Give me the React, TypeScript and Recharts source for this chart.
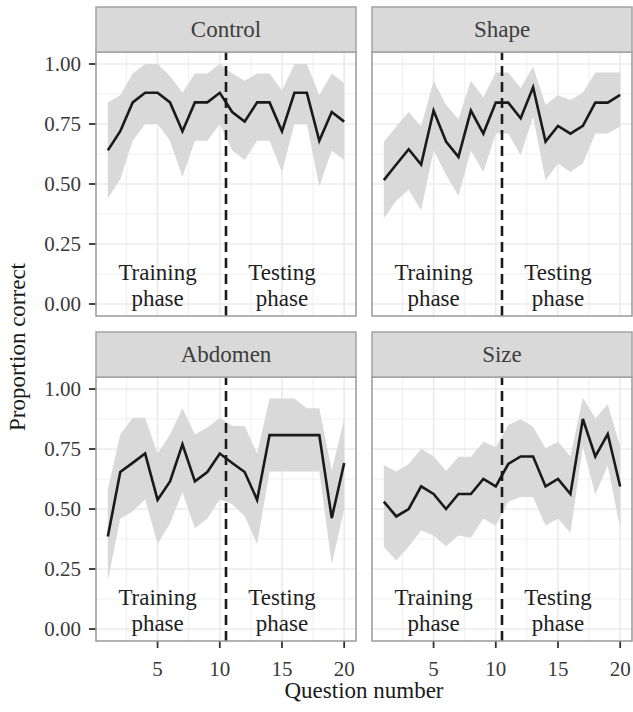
import React from 'react';
import {
  ComposedChart,
  Area,
  Line,
  XAxis,
  YAxis,
  CartesianGrid,
  ReferenceLine,
  ReferenceDot,
} from 'recharts';

// ---------- data ----------
const questions = [1, 2, 3, 4, 5, 6, 7, 8, 9, 10, 11, 12, 13, 14, 15, 16, 17, 18, 19, 20];
const panelTitles = ['Control', 'Shape', 'Abdomen', 'Size'];

const controlMean = [0.64, 0.72, 0.84, 0.88, 0.88, 0.84, 0.72, 0.84, 0.84, 0.88, 0.8, 0.76, 0.84, 0.84, 0.72, 0.88, 0.88, 0.68, 0.8, 0.76];
const controlLower = [0.44, 0.52, 0.68, 0.75, 0.75, 0.68, 0.53, 0.68, 0.68, 0.75, 0.64, 0.6, 0.68, 0.68, 0.55, 0.75, 0.75, 0.49, 0.64, 0.6];
const controlUpper = [0.84, 0.87, 0.96, 1.0, 1.0, 0.95, 0.88, 0.96, 0.96, 1.0, 0.96, 0.93, 0.96, 0.96, 0.89, 1.0, 1.0, 0.87, 0.96, 0.92];

const shapeMean = [0.516, 0.581, 0.645, 0.581, 0.806, 0.677, 0.613, 0.806, 0.71, 0.839, 0.839, 0.774, 0.903, 0.677, 0.742, 0.71, 0.742, 0.839, 0.839, 0.871];
const shapeLower = [0.356, 0.43, 0.476, 0.39, 0.64, 0.54, 0.45, 0.64, 0.55, 0.71, 0.71, 0.62, 0.78, 0.515, 0.585, 0.55, 0.585, 0.71, 0.71, 0.74];
const shapeUpper = [0.675, 0.74, 0.8, 0.74, 0.93, 0.83, 0.77, 0.93, 0.86, 0.965, 0.965, 0.9, 0.99, 0.83, 0.87, 0.85, 0.88, 0.965, 0.965, 0.965];

const abdomenMean = [0.385, 0.654, 0.692, 0.731, 0.538, 0.615, 0.769, 0.615, 0.654, 0.731, 0.692, 0.654, 0.538, 0.808, 0.808, 0.808, 0.808, 0.808, 0.462, 0.692];
const abdomenLower = [0.2, 0.46, 0.49, 0.54, 0.354, 0.44, 0.57, 0.42, 0.46, 0.54, 0.52, 0.47, 0.354, 0.656, 0.656, 0.656, 0.656, 0.656, 0.27, 0.5];
const abdomenUpper = [0.58, 0.81, 0.88, 0.88, 0.73, 0.81, 0.92, 0.81, 0.84, 0.88, 0.846, 0.846, 0.73, 0.96, 0.96, 0.96, 0.92, 0.92, 0.66, 0.874];

const sizeMean = [0.531, 0.469, 0.5, 0.594, 0.5625, 0.5, 0.5625, 0.5625, 0.625, 0.594, 0.6875, 0.719, 0.719, 0.594, 0.625, 0.5625, 0.875, 0.719, 0.8125, 0.594];
const sizeLower = [0.343, 0.285, 0.343, 0.41, 0.39, 0.345, 0.39, 0.38, 0.46, 0.43, 0.53, 0.55, 0.55, 0.43, 0.46, 0.4, 0.76, 0.56, 0.68, 0.42];
const sizeUpper = [0.683, 0.656, 0.6875, 0.75, 0.72, 0.658, 0.718, 0.718, 0.78, 0.757, 0.85, 0.874, 0.843, 0.753, 0.78, 0.72, 0.964, 0.878, 0.936, 0.76];

const xTicks = [5, 10, 15, 20];
const xMinor = [2.5, 7.5, 12.5, 17.5];
const yTicks = [0, 0.25, 0.5, 0.75, 1];
const yMinor = [0.125, 0.375, 0.625, 0.875];
const phaseBoundary = 10.5;
const trainingLabel = ['Training', 'phase'];
const testingLabel = ['Testing', 'phase'];

// ---------- layout ----------
const FONT = '"Liberation Serif", "Times New Roman", Times, serif';
const PLOT_W = 260;
const PLOT_H = 264;
const STRIP_H = 45;
const COL_LEFT = [96, 372];
const ROW_TOP = [52, 377];
const Y_AXIS_W = 96;
const X_AXIS_H = 50;

function build(mean: number[], lower: number[], upper: number[]) {
  return questions.map((q, i) => ({ q, mean: mean[i], range: [lower[i], upper[i]] }));
}

const panels = [
  { title: panelTitles[0], data: build(controlMean, controlLower, controlUpper), col: 0, row: 0 },
  { title: panelTitles[1], data: build(shapeMean, shapeLower, shapeUpper), col: 1, row: 0 },
  { title: panelTitles[2], data: build(abdomenMean, abdomenLower, abdomenUpper), col: 0, row: 1 },
  { title: panelTitles[3], data: build(sizeMean, sizeLower, sizeUpper), col: 1, row: 1 },
];

const annot = (lines: string[]) => (props: any) => {
  const vb = props.viewBox || {};
  const cx = (vb.x || 0) + (vb.width || 0) / 2;
  const cy = (vb.y || 0) + (vb.height || 0) / 2;
  return (
    <text x={cx} y={cy} textAnchor="middle" style={{ fontFamily: FONT }} fontSize={23} fill="#1e1e1e">
      <tspan x={cx} dy={0}>{lines[0]}</tspan>
      <tspan x={cx} dy={26}>{lines[1]}</tspan>
    </text>
  );
};

function Panel({ data, col, row }: { data: any[]; col: number; row: number }) {
  const showY = col === 0;
  const showX = row === 1;
  const yW = showY ? Y_AXIS_W : 0;
  const xH = showX ? X_AXIS_H : 0;
  return (
    <div style={{ position: 'absolute', left: COL_LEFT[col] - yW, top: ROW_TOP[row], fontFamily: FONT }}>
      <ComposedChart
        width={yW + PLOT_W}
        height={PLOT_H + xH}
        data={data}
        margin={{ top: 0, right: 0, bottom: 0, left: 0 }}
      >
        <CartesianGrid stroke="#EDEDED" strokeWidth={0.9} horizontalValues={yMinor} verticalValues={xMinor} />
        <CartesianGrid stroke="#EBEBEB" strokeWidth={1.6} horizontalValues={yTicks} verticalValues={xTicks} />
        <XAxis
          dataKey="q"
          type="number"
          domain={[0.05, 20.95]}
          ticks={xTicks}
          interval={0}
          allowDataOverflow
          hide={!showX}
          height={xH}
          axisLine={false}
          tickSize={7}
          tickMargin={13}
          tickLine={{ stroke: '#333', strokeWidth: 1.8 }}
          tick={{ fontSize: 21, fill: '#3a3a3a', style: { fontFamily: FONT } }}
        />
        <YAxis
          type="number"
          domain={[-0.05, 1.05]}
          ticks={yTicks}
          interval={0}
          allowDataOverflow
          hide={!showY}
          width={yW}
          axisLine={false}
          tickSize={7}
          tickMargin={8}
          tickLine={{ stroke: '#333', strokeWidth: 1.8 }}
          tickFormatter={(v: number) => v.toFixed(2)}
          tick={{ fontSize: 21, fill: '#3a3a3a', style: { fontFamily: FONT } }}
        />
        <Area dataKey="range" type="linear" stroke="none" fill="#D9D9D9" fillOpacity={1} isAnimationActive={false} />
        <Line
          dataKey="mean"
          type="linear"
          stroke="#1a1a1a"
          strokeWidth={2.6}
          dot={false}
          activeDot={false}
          isAnimationActive={false}
        />
        <ReferenceLine x={phaseBoundary} stroke="#1a1a1a" strokeWidth={2.6} strokeDasharray="10 6" />
        <ReferenceDot x={5} y={0.1} r={0} fill="none" stroke="none" label={annot(trainingLabel)} />
        <ReferenceDot x={15} y={0.1} r={0} fill="none" stroke="none" label={annot(testingLabel)} />
      </ComposedChart>
    </div>
  );
}

export default function App() {
  return (
    <div
      style={{
        position: 'absolute',
        left: 0,
        top: 0,
        width: 633,
        height: 712,
        background: '#ffffff',
        fontFamily: FONT,
        overflow: 'hidden',
      }}
    >
      {panels.map((p) => (
        <Panel key={p.title} data={p.data} col={p.col} row={p.row} />
      ))}
      <svg width={633} height={712} style={{ position: 'absolute', left: 0, top: 0, pointerEvents: 'none' }}>
        {panels.map((p) => {
          const x = COL_LEFT[p.col];
          const y = ROW_TOP[p.row];
          return (
            <g key={p.title}>
              <rect x={x} y={y} width={PLOT_W} height={PLOT_H} fill="none" stroke="#999999" strokeWidth={1.5} />
              <rect x={x} y={y - STRIP_H} width={PLOT_W} height={STRIP_H} fill="#D9D9D9" stroke="#A3A3A3" strokeWidth={1.5} />
            </g>
          );
        })}
      </svg>
      {panels.map((p) => (
        <div
          key={'t' + p.title}
          style={{
            position: 'absolute',
            left: COL_LEFT[p.col],
            top: ROW_TOP[p.row] - STRIP_H,
            width: PLOT_W,
            height: STRIP_H,
            lineHeight: STRIP_H + 'px',
            textAlign: 'center',
            fontFamily: FONT,
            fontSize: 23,
            color: '#3d3d3d',
          }}
        >
          {p.title}
        </div>
      ))}
      <div
        style={{
          position: 'absolute',
          left: 96,
          top: 676,
          width: 536,
          textAlign: 'center',
          fontFamily: FONT,
          fontSize: 23,
          lineHeight: '30px',
          color: '#1a1a1a',
        }}
      >
        Question number
      </div>
      <div
        style={{
          position: 'absolute',
          left: 18 - 150,
          top: 347 - 15,
          width: 300,
          height: 30,
          lineHeight: '30px',
          textAlign: 'center',
          fontFamily: FONT,
          fontSize: 23,
          color: '#1a1a1a',
          transform: 'rotate(-90deg)',
        }}
      >
        Proportion correct
      </div>
    </div>
  );
}
